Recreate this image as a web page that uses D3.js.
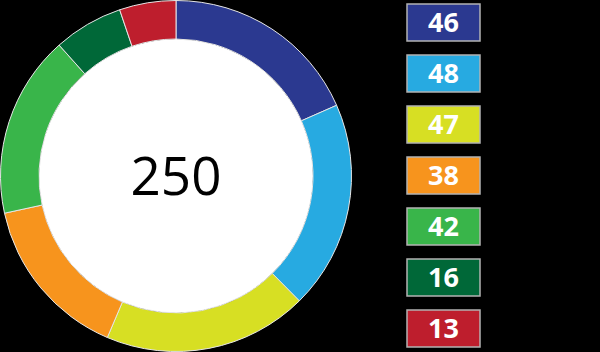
<!DOCTYPE html>
<html>
<head>
<meta charset="utf-8">
<script src="https://cdn.jsdelivr.net/npm/d3@7"></script>
<style>
  html, body { margin: 0; padding: 0; background: #000; }
  svg { display: block; }
</style>
</head>
<body>
<div id="chart"></div>
<script>
const WIDTH = 600;
const HEIGHT = 352;

// data
const categories = ["a", "b", "c", "d", "e", "f", "g"];
const values = [46, 48, 47, 38, 42, 16, 13];
const colors = ["#2b3990", "#27aae1", "#d7df23", "#f7941d", "#39b54a", "#006838", "#be1e2d"];
const totalLabel = d3.sum(values);

let svg = d3.select("#chart").append("svg")
    .attr("width", WIDTH)
    .attr("height", HEIGHT)
    .style("background", "#000");

// donut
const cx = 176, cy = 176;
const outerR = 175.5, innerR = 137;

let pie = d3.pie().sort(null).value(d => d.value);
let arc = d3.arc().innerRadius(innerR).outerRadius(outerR);

let rows = categories.map((c, i) => ({ name: c, value: values[i], color: colors[i] }));

let donut = svg.append("g").attr("transform", `translate(${cx},${cy})`);

donut.append("circle")
    .attr("r", innerR)
    .attr("fill", "#fff");

donut.selectAll("path").data(pie(rows)).enter().append("path")
    .attr("d", arc)
    .attr("fill", d => d.data.color)
    .attr("stroke", "#e6e6e6")
    .attr("stroke-width", 1);

donut.append("text")
    .attr("text-anchor", "middle")
    .attr("y", 19)
    .attr("font-family", "'Open Sans', sans-serif")
    .attr("font-size", 53)
    .attr("fill", "#000")
    .text(totalLabel);

// legend boxes
let legendY = d3.scaleBand()
    .domain(categories)
    .range([4, 347])
    .paddingInner(14 / 51)
    .paddingOuter(0);

let legend = svg.append("g");

let items = legend.selectAll("g").data(rows).enter().append("g")
    .attr("transform", d => `translate(407,${legendY(d.name)})`);

items.append("rect")
    .attr("width", 73)
    .attr("height", legendY.bandwidth())
    .attr("fill", d => d.color)
    .attr("stroke", "#b3b3b3")
    .attr("stroke-width", 1.5);

items.append("text")
    .attr("x", 36.5)
    .attr("y", legendY.bandwidth() / 2 + 9.5)
    .attr("text-anchor", "middle")
    .attr("font-family", "'Open Sans', sans-serif")
    .attr("font-weight", 700)
    .attr("font-size", 27)
    .attr("fill", "#fff")
    .text(d => d.value);
</script>
</body>
</html>
